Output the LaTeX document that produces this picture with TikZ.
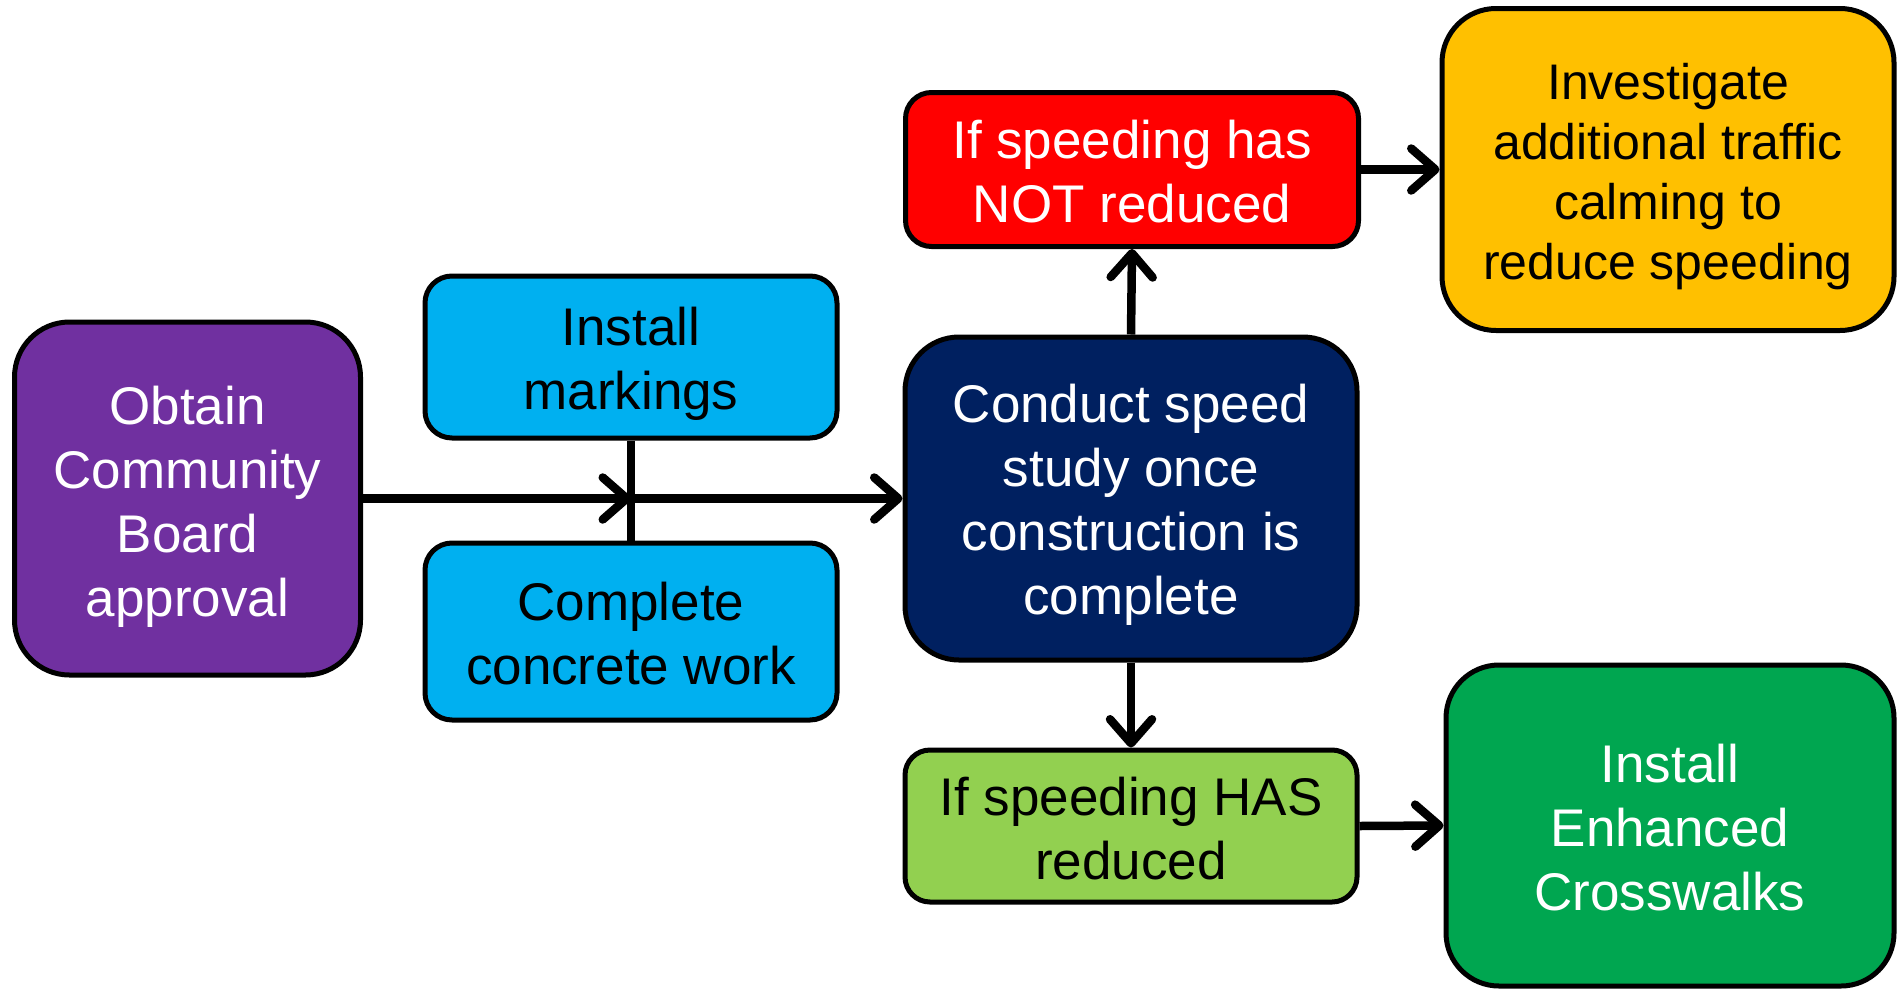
\documentclass[tikz,border=0pt]{standalone}
\usepackage{fontspec}
\setmainfont{Liberation Sans}
\usetikzlibrary{arrows.meta}
\definecolor{cpurple}{HTML}{7030A0}
\definecolor{cblue}{HTML}{00B0F0}
\definecolor{cnavy}{HTML}{002060}
\definecolor{cred}{HTML}{FF0000}
\definecolor{corange}{HTML}{FFC000}
\definecolor{clgreen}{HTML}{92D050}
\definecolor{cgreen}{HTML}{00A650}
\newcommand\lowtxt[2]{\raisebox{-#1}[\height][\depth]{\begin{tabular}{@{}c@{}}#2\end{tabular}}}
\begin{document}
\begin{tikzpicture}[x=1pt,y=-1pt,
  box/.style={draw=black,line width=5pt,inner sep=0pt,
    font=\fontsize{53}{64}\selectfont},
  conn/.style={line width=8.5pt,
    -{Straight Barb[length=24pt,width=42pt,line cap=round,line join=round]}},
  link/.style={line width=8pt}]
\useasboundingbox (0,0) rectangle (1897,988);
\node[box,fill=cpurple,text=white,rounded corners=55pt,minimum width=346pt,minimum height=353pt] (purple) at (187.5,498.5) {\lowtxt{9pt}{Obtain\\Community\\Board\\approval}};
\node[box,fill=cblue,text=black,rounded corners=27pt,minimum width=412pt,minimum height=162pt] (mark) at (631,357) {\lowtxt{7.5pt}{Install\\markings}};
\node[box,fill=cblue,text=black,rounded corners=27pt,minimum width=412pt,minimum height=177pt] (conc) at (631,631.5) {\lowtxt{8pt}{Complete\\concrete work}};
\node[box,fill=cnavy,text=white,rounded corners=54pt,minimum width=452pt,minimum height=323pt] (navy) at (1131,498.5) {\lowtxt{7pt}{Conduct speed\\study once\\construction is\\complete}};
\node[box,fill=cred,text=white,rounded corners=26pt,minimum width=453pt,minimum height=154pt] (red) at (1132,169.5) {\lowtxt{8pt}{If speeding has\\NOT reduced}};
\node[box,fill=corange,text=black,rounded corners=54pt,minimum width=452pt,minimum height=322pt,font=\fontsize{50}{60}\selectfont] (orange) at (1668,169.5) {\lowtxt{8pt}{Investigate\\additional traffic\\calming to\\reduce speeding}};
\node[box,fill=clgreen,text=black,rounded corners=25pt,minimum width=452pt,minimum height=152pt] (lgreen) at (1131,826) {\lowtxt{9pt}{If speeding HAS\\reduced}};
\node[box,fill=cgreen,text=white,rounded corners=53pt,minimum width=448pt,minimum height=321pt] (green) at (1670,825.5) {\lowtxt{8pt}{Install\\Enhanced\\Crosswalks}};
\coordinate (j) at (purple.east -| mark.south);
\draw[link] (mark.south) -- (conc.north);
\draw[conn] (purple.east) -- (j);
\draw[conn] (j) -- (navy.west);
\draw[conn] (navy.north) -- (red.south);
\draw[conn] (navy.south) -- (lgreen.north);
\draw[conn] (red.east) -- (orange.west);
\draw[conn] (lgreen.east) -- (green.west);
\end{tikzpicture}
\end{document}
